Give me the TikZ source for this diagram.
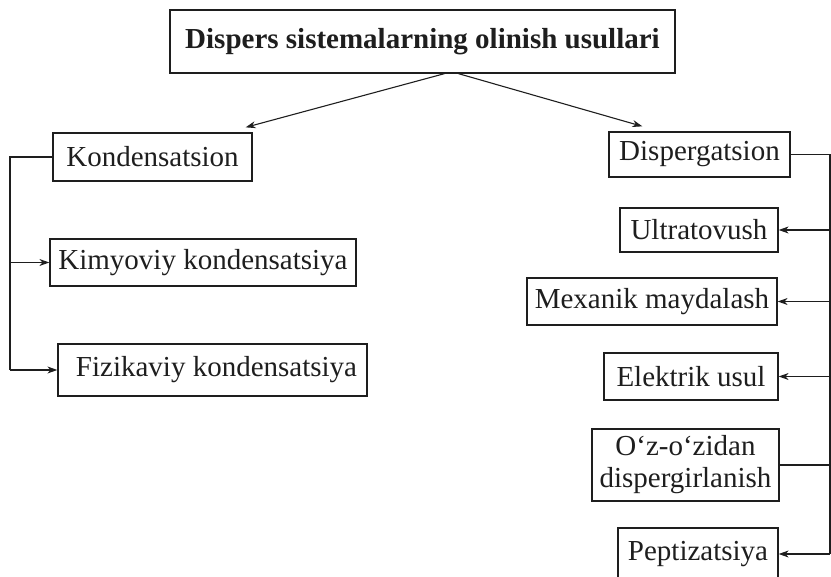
\documentclass[tikz,border=0pt]{standalone}
\usepackage{fontspec}
\setmainfont{Liberation Serif}
\usepackage{tikz}
\usetikzlibrary{arrows.meta,positioning,calc}
\definecolor{ink}{HTML}{1E1E1E}

\begin{document}
\begin{tikzpicture}[x=1pt, y=-1pt, >={Stealth[length=10pt, width=7pt]},
  usul/.style={draw=ink, line width=1.3pt, text=ink, inner sep=0pt, align=center,
    font=\fontsize{29}{32}\selectfont},
  link/.style={draw=ink, line width=1.1pt}]
  \clip (0,0) rectangle (831,577);
  \coordinate (kbus) at (10,0);
  \coordinate (dbus) at (830,0);

  % head
  \node[usul, font=\bfseries\fontsize{29}{32}\selectfont, minimum width=505, minimum height=63] (title) at (422.5,41.5) {Dispers sistemalarning olinish usullari};

  % left branch
  \node[usul, minimum width=199, minimum height=48] (kond) at (152.5,157) {Kondensatsion};
  \node[usul, minimum width=306, minimum height=47] (kimyo) at (203,262.5) {Kimyoviy kondensatsiya};
  \node[usul, minimum width=309, minimum height=52] (fizik) at (212.5,370) {\hspace{8pt}Fizikaviy kondensatsiya};

  % right branch
  \node[usul, minimum width=181, minimum height=45] (disp) at (699.5,154.5) {Dispergatsion};
  \node[usul, minimum width=158, minimum height=44] (ultra) at (699,230) {Ultratovush};
  \node[usul, minimum width=250, minimum height=47] (mexan) at (652,301.5) {Mexanik maydalash};
  \node[usul, minimum width=174, minimum height=47] (elektr) at (691,376.5) {Elektrik usul};
  \node[usul, minimum width=187, minimum height=72] (ozo) at (685.5,465) {O‘z-o‘zidan\\dispergirlanish};
  \node[usul, minimum width=160, minimum height=52] (pepti) at (698,554) {Peptizatsiya};

  \draw[link, ->] ($(title.south)+(22,0)$) -- ($(kond.north east)+(-7,-5)$);
  \draw[link, ->] ($(title.south)+(36,0)$) -- ($(disp.north west)+(34,-5)$);

  \draw[link] (kond.west) -| (kbus |- fizik.west);
  \foreach \n in {kimyo,fizik}
    \draw[link, ->] (kbus |- \n.west) -- (\n.west);

  \draw[link] (disp.east) -| (dbus |- pepti.east);
  \foreach \n in {ultra,mexan,elektr,pepti}
    \draw[link, ->] (dbus |- \n.east) -- (\n.east);
  \draw[link] (dbus |- ozo.east) -- (ozo.east);
\end{tikzpicture}
\end{document}
